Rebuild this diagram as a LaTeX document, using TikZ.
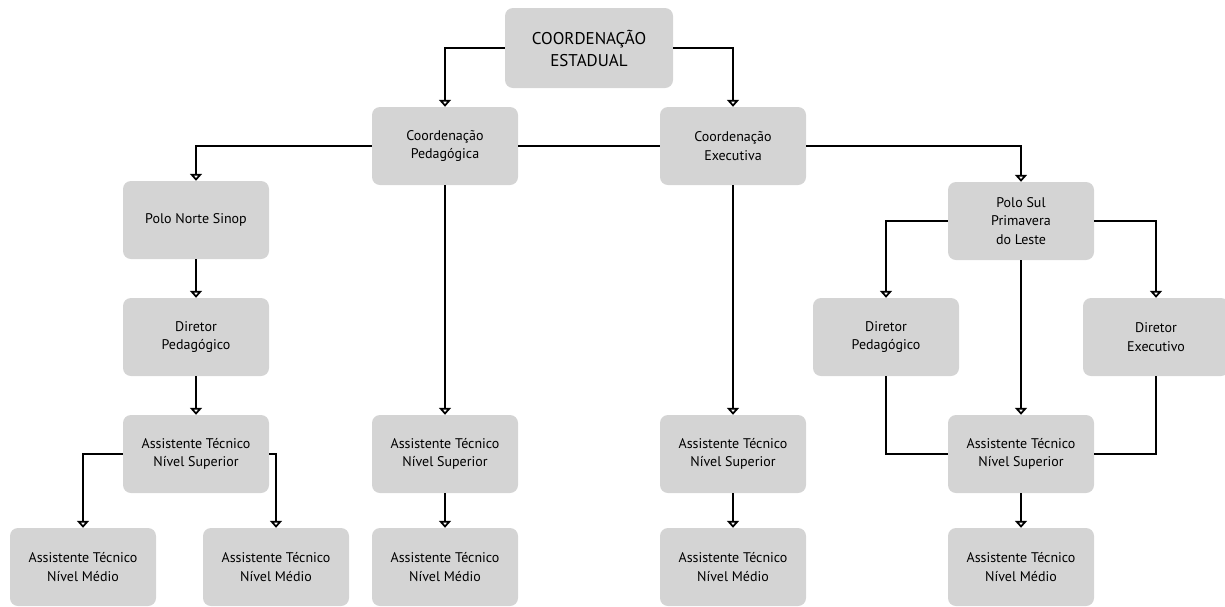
\documentclass[tikz,border=0pt]{standalone}
\usepackage{fontspec}
\setmainfont{PT Sans}
\usetikzlibrary{arrows.meta}
\definecolor{boxgray}{RGB}{212,212,212}
\tikzset{
  box/.style={rectangle, rounded corners=8pt, fill=boxgray, minimum width=146pt, minimum height=78pt, align=center, inner sep=2pt, font=\fontsize{14}{18.5}\selectfont},
  topbox/.style={box, minimum width=168pt, minimum height=80pt, font=\fontsize{17}{22}\selectfont},
  conn/.style={line width=2.8pt, draw=black},
  arr/.style={conn, -{Triangle[open, width=12pt, length=7pt, line width=2.2pt]}}
}
\begin{document}
\begin{tikzpicture}[x=1pt,y=-1pt]
\useasboundingbox (0,0) rectangle (1225,606);
\node[topbox] (top) at (589,48) {COORDENAÇÃO\\ESTADUAL};
\node[box] (cp) at (445,146) {Coordenação\\Pedagógica};
\node[box] (ce) at (733,146) {Coordenação\\Executiva};
\node[box] (pn) at (196,220) {Polo Norte Sinop};
\node[box] (dpl) at (196,337) {Diretor\\Pedagógico};
\node[box] (asl) at (196,454) {Assistente Técnico\\Nível Superior};
\node[box] (nml1) at (83,567) {Assistente Técnico\\Nível Médio};
\node[box] (nml2) at (276,567) {Assistente Técnico\\Nível Médio};
\node[box] (asc) at (445,454) {Assistente Técnico\\Nível Superior};
\node[box] (nmc) at (445,567) {Assistente Técnico\\Nível Médio};
\node[box] (ase) at (733,454) {Assistente Técnico\\Nível Superior};
\node[box] (nme) at (733,567) {Assistente Técnico\\Nível Médio};
\node[box] (ps) at (1021,221) {Polo Sul\\Primavera\\do Leste};
\node[box] (dpr) at (886,337) {Diretor\\Pedagógico};
\node[box] (de) at (1156,337) {Diretor\\Executivo};
\node[box] (asr) at (1021,454) {Assistente Técnico\\Nível Superior};
\node[box] (nmr) at (1021,567) {Assistente Técnico\\Nível Médio};

\draw[arr] (top.west) -| (cp.north);
\draw[arr] (top.east) -| (ce.north);
\draw[conn] (cp.east) -- (ce.west);
\draw[arr] (cp.west) -| (pn.north);
\draw[arr] (ce.east) -| (ps.north);
\draw[arr] (pn.south) -- (dpl.north);
\draw[arr] (dpl.south) -- (asl.north);
\draw[arr] (asl.west) -| (nml1.north);
\draw[arr] (asl.east) -| (nml2.north);
\draw[arr] (cp.south) -- (asc.north);
\draw[arr] (asc.south) -- (nmc.north);
\draw[arr] (ce.south) -- (ase.north);
\draw[arr] (ase.south) -- (nme.north);
\draw[arr] (ps.west) -| (dpr.north);
\draw[arr] (ps.east) -| (de.north);
\draw[arr] (ps.south) -- (asr.north);
\draw[conn] (dpr.south) |- (asr.west);
\draw[conn] (de.south) |- (asr.east);
\draw[arr] (asr.south) -- (nmr.north);
\end{tikzpicture}
\end{document}
